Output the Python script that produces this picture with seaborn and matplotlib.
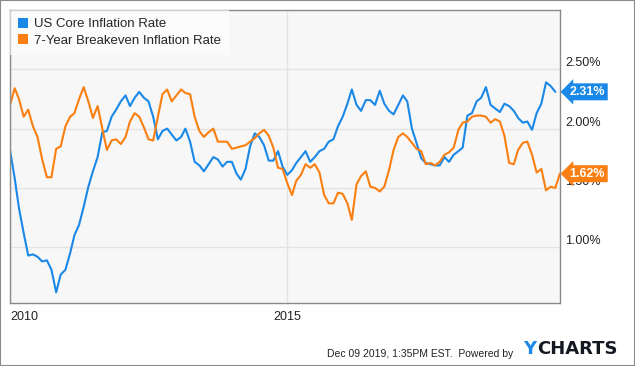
import pandas as pd
import matplotlib.pyplot as plt
import matplotlib.dates as mdates
from matplotlib.patches import Patch, Rectangle
import seaborn as sns

# Monthly values (month end), Dec 2009 onwards
core_inflation = [
    1.82, 1.58, 1.33, 1.12, 0.93, 0.94, 0.92, 0.88, 0.89, 0.81, 0.62, 0.77,
    0.81, 0.95, 1.10, 1.19, 1.34, 1.51, 1.64, 1.76, 1.97, 1.98, 2.10, 2.16,
    2.23, 2.28, 2.19, 2.26, 2.31, 2.26, 2.23, 2.10, 1.91, 1.98, 2.00, 1.95,
    1.90, 1.93, 2.00, 1.89, 1.72, 1.69, 1.64, 1.70, 1.76, 1.74, 1.68, 1.72,
    1.72, 1.62, 1.57, 1.66, 1.85, 1.96, 1.93, 1.86, 1.73, 1.73, 1.81, 1.68,
    1.61, 1.65, 1.71, 1.76, 1.81, 1.72, 1.76, 1.81, 1.83, 1.89, 1.91, 2.02,
    2.10, 2.21, 2.33, 2.20, 2.15, 2.24, 2.24, 2.20, 2.32, 2.21, 2.15, 2.12,
    2.20, 2.28, 2.23, 2.00, 1.88, 1.75, 1.71, 1.70, 1.69, 1.69, 1.76, 1.72,
    1.78, 1.81, 1.84, 2.11, 2.13, 2.23, 2.26, 2.35, 2.20, 2.17, 2.14, 2.21,
    2.19, 2.15, 2.09, 2.05, 2.06, 1.99, 2.13, 2.21, 2.39, 2.36, 2.31,
]
breakeven_7y = [
    2.20, 2.34, 2.25, 2.10, 2.16, 2.02, 1.93, 1.74, 1.59, 1.59, 1.83, 1.85,
    2.02, 2.10, 2.13, 2.25, 2.35, 2.23, 2.09, 2.19, 2.00, 1.82, 1.90, 1.91,
    1.87, 1.93, 2.06, 2.13, 2.10, 2.01, 1.91, 1.90, 2.10, 2.29, 2.33, 2.23,
    2.28, 2.33, 2.30, 2.29, 2.10, 1.98, 1.93, 1.97, 2.00, 1.89, 1.89, 1.89,
    1.83, 1.84, 1.85, 1.86, 1.89, 1.92, 1.96, 1.99, 1.94, 1.84, 1.67, 1.66,
    1.54, 1.44, 1.56, 1.61, 1.70, 1.67, 1.70, 1.63, 1.44, 1.37, 1.37, 1.46,
    1.45, 1.37, 1.23, 1.53, 1.60, 1.64, 1.51, 1.50, 1.47, 1.51, 1.65, 1.82,
    1.93, 1.96, 1.93, 1.88, 1.83, 1.81, 1.70, 1.71, 1.69, 1.72, 1.78, 1.80,
    1.84, 1.99, 2.05, 2.06, 2.10, 2.11, 2.11, 2.10, 2.05, 2.08, 2.06, 1.94,
    1.71, 1.70, 1.82, 1.88, 1.89, 1.78, 1.63, 1.66, 1.48, 1.51, 1.50, 1.62,
]
series_names = ['US Core Inflation Rate', '7-Year Breakeven Inflation Rate']
colors = ['#1a88e6', '#fa7f10']
y_ticks = [1.0, 1.5, 2.0, 2.5]
x_ticks = ['2010-01-01', '2015-01-01']
x_labels = ['2010', '2015']

dates = pd.date_range('2009-12-31', periods=len(breakeven_7y), freq='ME')
df = pd.concat([
    pd.DataFrame({'date': dates[:len(core_inflation)], 'value': core_inflation,
                  'series': series_names[0]}),
    pd.DataFrame({'date': dates, 'value': breakeven_7y, 'series': series_names[1]}),
])

sns.set_style('white')
plt.rcParams['font.family'] = ['Liberation Sans', 'DejaVu Sans']

fig = plt.figure(figsize=(6.35, 3.66), dpi=100)
ax = fig.add_axes([10 / 635, 1 - 303 / 366, 550 / 635, 293 / 366])
ax.set_facecolor('#f7f7f7')

sns.lineplot(data=df, x='date', y='value', hue='series', palette=colors,
             linewidth=1.5, ax=ax, legend=False)

ax.set_xlim(pd.Timestamp('2009-12-31'), pd.Timestamp('2019-12-01'))
ax.set_ylim(0.53, 3.0)

# gridlines and axis labels
ax.set_yticks(y_ticks)
ax.set_yticklabels([f'{v:.2f}%' for v in y_ticks])
ax.set_xticks(pd.to_datetime(x_ticks))
ax.set_xticklabels(x_labels)
ax.grid(True, color='#e3e3e3', linewidth=1)
ax.set_axisbelow(True)
ax.yaxis.tick_right()
ax.tick_params(axis='y', length=0, pad=4, labelsize=9, labelcolor='#222222')
ax.tick_params(axis='x', length=0, pad=6, labelsize=9, labelcolor='#222222')
for lab in ax.get_yticklabels():
    lab.set_verticalalignment('bottom')
ax.get_xticklabels()[0].set_horizontalalignment('left')
ax.set_xlabel('')
ax.set_ylabel('')
for s in ax.spines.values():
    s.set_color('#8a8a8a')
    s.set_linewidth(1)

# legend
handles = [Patch(facecolor=c, edgecolor='none') for c in colors]
leg = ax.legend(handles, series_names, loc='upper left', bbox_to_anchor=(0, 1),
                borderaxespad=0, fontsize=9.5, handlelength=0.75, handleheight=0.75,
                handletextpad=0.5, labelspacing=0.3, borderpad=0.6,
                frameon=True, fancybox=False)
leg.get_frame().set_facecolor('white')
leg.get_frame().set_alpha(0.6)
leg.get_frame().set_edgecolor('none')

# last value badges
for vals, c in zip([core_inflation, breakeven_7y], colors):
    last = vals[-1]
    ax.annotate(f'{last:.2f}%', xy=(1, last), xycoords=('axes fraction', 'data'),
                xytext=(7, 0), textcoords='offset points', ha='left', va='center',
                fontsize=9, fontweight='bold', color='white', annotation_clip=False,
                zorder=5,
                bbox=dict(boxstyle='larrow,pad=0.2', facecolor=c, edgecolor='none'))

# footer
fig.text(327 / 635, 1 - 357 / 366, 'Dec 09 2019, 1:35PM EST.  Powered by',
         fontsize=7.5, color='#222222', va='baseline', ha='left')
fig.text(523 / 635, 1 - 354 / 366, 'Y', fontsize=13, fontweight='bold',
         color='#1a88e6', va='baseline', ha='left', family='DejaVu Sans')
fig.text(537 / 635, 1 - 354 / 366, 'CHARTS', fontsize=13, fontweight='bold',
         color='#141821', va='baseline', ha='left', family='DejaVu Sans')

fig.patches.append(Rectangle((0, 0), 1, 1, transform=fig.transFigure,
                             fill=False, edgecolor='#8a8a8a', linewidth=1.5))

fig.savefig('out.png', dpi=100)
